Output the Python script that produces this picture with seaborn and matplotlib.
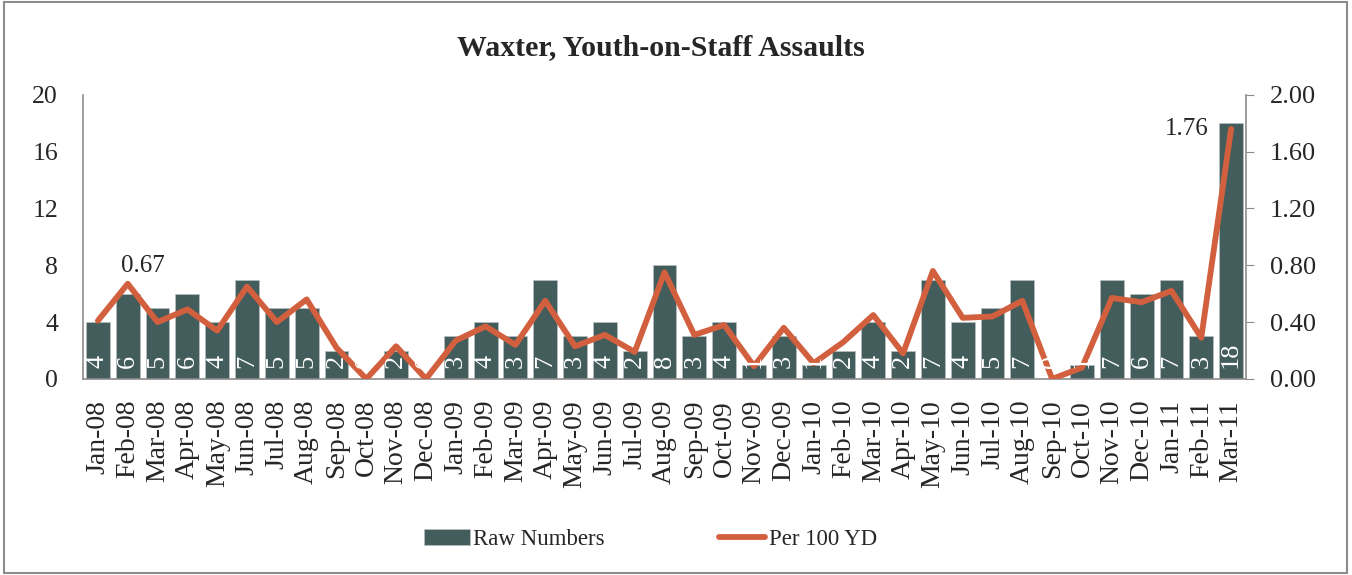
import numpy as np
import pandas as pd
import matplotlib.pyplot as plt
import seaborn as sns
from matplotlib.patches import Rectangle

# Datos
meses = ['Jan-08', 'Feb-08', 'Mar-08', 'Apr-08', 'May-08', 'Jun-08', 'Jul-08', 'Aug-08',
         'Sep-08', 'Oct-08', 'Nov-08', 'Dec-08', 'Jan-09', 'Feb-09', 'Mar-09', 'Apr-09',
         'May-09', 'Jun-09', 'Jul-09', 'Aug-09', 'Sep-09', 'Oct-09', 'Nov-09', 'Dec-09',
         'Jan-10', 'Feb-10', 'Mar-10', 'Apr-10', 'May-10', 'Jun-10', 'Jul-10', 'Aug-10',
         'Sep-10', 'Oct-10', 'Nov-10', 'Dec-10', 'Jan-11', 'Feb-11', 'Mar-11']
raw_numbers = [4, 6, 5, 6, 4, 7, 5, 5, 2, 0, 2, 0, 3, 4, 3, 7, 3, 4, 2, 8, 3, 4, 1, 3,
               1, 2, 4, 2, 7, 4, 5, 7, 0, 1, 7, 6, 7, 3, 18]
per_100_yd = [0.41, 0.67, 0.40, 0.49, 0.34, 0.65, 0.40, 0.56, 0.22, 0.00, 0.23, 0.00,
              0.27, 0.37, 0.24, 0.55, 0.23, 0.31, 0.19, 0.75, 0.31, 0.38, 0.09, 0.36,
              0.11, 0.26, 0.45, 0.18, 0.76, 0.43, 0.44, 0.55, 0.00, 0.08, 0.57, 0.54,
              0.62, 0.29, 1.76]
etiquetas_linea = {1: '0.67', 38: '1.76'}

datos = pd.DataFrame({'Mes': meses, 'Raw': raw_numbers, 'Per100': per_100_yd})

color_barra = '#435C5C'
color_linea = '#D2603F'

sns.set_style('white')
plt.rcParams['font.family'] = ['Liberation Serif', 'DejaVu Serif']

fig = plt.figure(figsize=(13.52, 5.75), dpi=100)
ax = fig.add_axes([0.0614, 0.341, 0.8602, 0.494])

sns.barplot(data=datos, x='Mes', y='Raw', color=color_barra, width=0.8,
            saturation=1, edgecolor='#b8c0c0', linewidth=0.5, ax=ax, label='Raw Numbers')
if ax.get_legend() is not None:
    ax.get_legend().remove()
ax.set_ylim(0, 20)
ax.set_yticks([0, 4, 8, 12, 16, 20])
ax.set_xlim(-0.5, len(meses) - 0.5)
ax.set_xlabel('')
ax.set_ylabel('')
ax.tick_params(axis='x', labelrotation=90, labelsize=20, length=0, pad=15)
ax.tick_params(axis='y', labelsize=18.5, length=0, pad=18)
for lado in ['top', 'right']:
    ax.spines[lado].set_visible(False)
for lado in ['left', 'bottom']:
    ax.spines[lado].set_color('#8c8c8c')
    ax.spines[lado].set_linewidth(1.2)

ax2 = ax.twinx()
sns.lineplot(x=np.arange(len(meses)), y=per_100_yd, color=color_linea, linewidth=4.2,
             ax=ax2, label='Per 100 YD', solid_capstyle='round', zorder=4)
ax2.set_ylim(0, 2)
ax2.set_yticks([0, 0.4, 0.8, 1.2, 1.6, 2.0])
ax2.set_yticklabels([f'{t:.2f}' for t in [0, 0.4, 0.8, 1.2, 1.6, 2.0]])
ax2.tick_params(axis='y', labelsize=19, length=6, color='#8c8c8c', pad=11)
for lado in ['top', 'left', 'bottom']:
    ax2.spines[lado].set_visible(False)
ax2.spines['right'].set_color('#8c8c8c')
ax2.spines['right'].set_linewidth(1.2)
ax2.legend_.remove()
ax.set_zorder(1)
ax2.set_zorder(2)
ax.patch.set_visible(False)

# Etiquetas blancas dentro de las barras (encima de la linea, como en el original)
for i, v in enumerate(raw_numbers):
    ax2.text(i, 0.75, str(v), rotation=90, ha='center', va='bottom',
             color='white', fontsize=19, zorder=6, transform=ax.transData)

for i, txt in etiquetas_linea.items():
    if i == len(meses) - 1:
        ax2.text(i - 0.75, per_100_yd[i] + 0.0, txt, ha='right', va='center', fontsize=18)
    else:
        ax2.text(i + 0.5, per_100_yd[i] + 0.05, txt, ha='center', va='bottom', fontsize=18)

fig.suptitle('Waxter, Youth-on-Staff Assaults', x=0.489, fontsize=21.5, fontweight='bold', y=0.94)

h1, l1 = ax.get_legend_handles_labels()
h2, l2 = ax2.get_legend_handles_labels()
fig.legend(h1 + h2, ['Raw Numbers', 'Per 100 YD'], loc='center', bbox_to_anchor=(0.481, 0.062),
           ncol=2, frameon=False, fontsize=16.5, columnspacing=5.0, handlelength=2.0,
           handletextpad=0.15)

fig.patches.append(Rectangle((0.003, 0.004), 0.993, 0.992, transform=fig.transFigure,
                             fill=False, edgecolor='#8c8c8c', linewidth=1.5))

fig.savefig('out.png', dpi=100)
